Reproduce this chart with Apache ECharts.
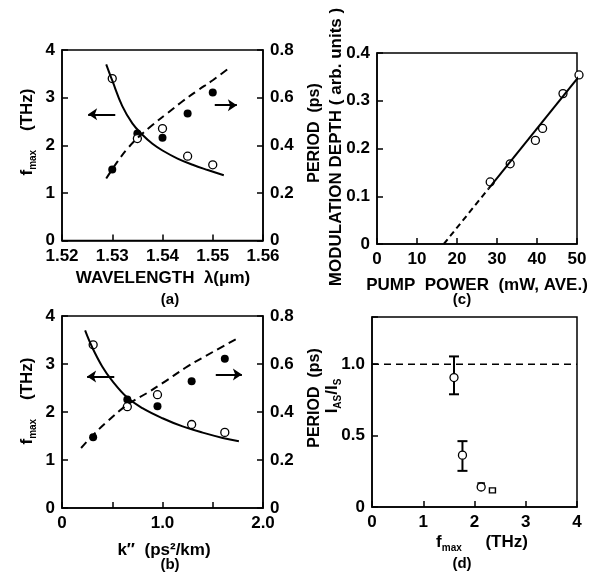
<!DOCTYPE html>
<html>
<head>
<meta charset="utf-8">
<script src="https://cdn.jsdelivr.net/npm/echarts@6/dist/echarts.min.js"></script>
<style>
  html, body { margin: 0; padding: 0; background: #fff; }
  #chart { width: 598px; height: 572px; }
</style>
</head>
<body>
<div id="chart"></div>
<script>
// (a) 波長に対する fmax と周期
const wavelength = [1.530, 1.535, 1.540, 1.545, 1.550]
const aFmax = [3.40, 2.14, 2.35, 1.77, 1.59]
const aPeriod = [0.298, 0.449, 0.432, 0.533, 0.622]
const aCurveX = [1.5288, 1.530, 1.532, 1.534, 1.536, 1.538, 1.540, 1.543, 1.546, 1.549, 1.5522]
const aCurveF = [3.70, 3.36, 2.82, 2.46, 2.22, 2.03, 1.89, 1.72, 1.59, 1.48, 1.37]
const aDashX = [1.5288, 1.531, 1.533, 1.535, 1.538, 1.541, 1.544, 1.547, 1.550, 1.5536]
const aDashP = [0.26, 0.33, 0.385, 0.43, 0.485, 0.535, 0.585, 0.63, 0.673, 0.73]

// (b) k'' に対する fmax と周期
const kpp = [0.31, 0.65, 0.95, 1.29, 1.62]
const bFmax = [3.40, 2.11, 2.36, 1.74, 1.575]
const bPeriod = [0.295, 0.452, 0.424, 0.528, 0.622]
const bCurveX = [0.23, 0.3, 0.4, 0.5, 0.65, 0.8, 1.0, 1.2, 1.4, 1.6, 1.76]
const bCurveF = [3.70, 3.35, 2.95, 2.65, 2.30, 2.08, 1.87, 1.70, 1.57, 1.46, 1.39]
const bDashX = [0.19, 0.3, 0.45, 0.65, 0.85, 1.0, 1.25, 1.5, 1.76]
const bDashP = [0.25, 0.30, 0.36, 0.43, 0.48, 0.52, 0.59, 0.65, 0.71]

// (c) ポンプパワーと変調深さ
const pumpPower = [28.3, 33.3, 39.6, 41.4, 46.5, 50.5]
const modDepth = [0.130, 0.168, 0.217, 0.242, 0.315, 0.354]
const cFitSolid = [[27.9, 0.116], [50.4, 0.350]]
const cFitDash = [[16.7, 0], [27.9, 0.116]]

// (d) I_AS/I_S と fmax
const dF = [1.60, 1.765, 2.13]
const dRatio = [0.906, 0.363, 0.14]
const dErrLow = [0.789, 0.253]
const dErrHigh = [1.054, 0.461]
const dSquareF = [2.13, 2.35]
const dSquareR = [0.152, 0.117]
const dRef = [[0, 1.0], [4, 1.0]]

// 矢印(データ座標)
const aArrows = [[[1.5306, 2.65], [1.5252, 2.65]], [[1.5504, 2.84], [1.5548, 2.84]]]
const bArrows = [[[0.52, 2.74], [0.25, 2.74]], [[1.53, 2.78], [1.79, 2.78]]]

const FONT = '"Liberation Sans", Arial, sans-serif'
const zip = (xs, ys) => xs.map((x, i) => [x, ys[i]])

const label = (fmt) => ({
  color: '#000', fontFamily: FONT, fontWeight: 'bold', fontSize: 17, margin: 7, formatter: fmt
})
const axisBase = {
  axisLine: { show: true, lineStyle: { color: '#000', width: 1.5 } },
  axisTick: { show: true, inside: true, length: 6, lineStyle: { color: '#000', width: 1.5 } },
  splitLine: { show: false }
}
const fix = (d) => (v) => (v === 0 ? '0' : v.toFixed(d))

const open = { color: '#fff', borderColor: '#000', borderWidth: 1.3, opacity: 1 }
const filled = { color: '#000', opacity: 1 }
const solidLine = { color: '#000', width: 2 }
const dashLine = { color: '#000', width: 2, type: [8, 5] }

const arrowLine = (arr) => ({
  silent: true,
  symbol: ['none', 'arrow'],
  symbolSize: 9,
  lineStyle: { color: '#000', width: 2, type: 'solid' },
  label: { show: false },
  data: arr.map(p => [{ coord: p[0] }, { coord: p[1] }])
})

const txt = (x, y, text, size, rot, rich) => ({
  type: 'text', x: x, y: y, rotation: rot || 0, silent: true,
  style: {
    text: text, fill: '#000', font: 'bold ' + size + 'px ' + FONT,
    align: 'center', verticalAlign: 'middle', textAlign: 'center', textVerticalAlign: 'middle',
    rich: rich
  }
})
const subRich = {
  m: { fontSize: 17, fontWeight: 'bold', fontFamily: FONT, lineHeight: 22, color: '#000' },
  s: { fontSize: 10, fontWeight: 'bold', fontFamily: FONT, lineHeight: 10, verticalAlign: 'bottom', color: '#000' }
}

const errorBars = dErrLow.map((lo, i) => [dF[i], lo, dErrHigh[i]])

const option = {
  animation: false,
  backgroundColor: '#fff',
  grid: [
    { left: 62, top: 50, width: 201, height: 190.5 },
    { left: 62, top: 316, width: 201, height: 192 },
    { left: 377, top: 53, width: 200, height: 191 },
    { left: 372, top: 317, width: 205, height: 190 }
  ].map(g => Object.assign(g, { show: true, borderColor: '#000', borderWidth: 1.5 })),
  xAxis: [
    Object.assign({ gridIndex: 0, type: 'value', min: 1.52, max: 1.56, interval: 0.01, axisLabel: label(fix(2)) }, axisBase),
    Object.assign({ gridIndex: 1, type: 'value', min: 0, max: 2, interval: 0.5,
      axisLabel: label(v => (v === 0 ? '0' : (v % 1 === 0 ? v.toFixed(1) : ''))) }, axisBase),
    Object.assign({ gridIndex: 2, type: 'value', min: 0, max: 50, interval: 10, axisLabel: label() }, axisBase),
    Object.assign({ gridIndex: 3, type: 'value', min: 0, max: 4, interval: 1, axisLabel: label() }, axisBase)
  ],
  yAxis: [
    Object.assign({ gridIndex: 0, type: 'value', min: 0, max: 4, interval: 1, axisLabel: label() }, axisBase),
    Object.assign({ gridIndex: 0, type: 'value', position: 'right', min: 0, max: 0.8, interval: 0.2, axisLabel: label(fix(1)) }, axisBase),
    Object.assign({ gridIndex: 1, type: 'value', min: 0, max: 4, interval: 1, axisLabel: label() }, axisBase),
    Object.assign({ gridIndex: 1, type: 'value', position: 'right', min: 0, max: 0.8, interval: 0.2, axisLabel: label(fix(1)) }, axisBase),
    Object.assign({ gridIndex: 2, type: 'value', min: 0, max: 0.4, interval: 0.1, axisLabel: label(fix(1)) }, axisBase),
    Object.assign({ gridIndex: 3, type: 'value', min: 0, max: 1.33, interval: 0.5,
      axisLabel: label(v => (v === 0 ? '0' : (Math.abs(v * 2 - Math.round(v * 2)) < 1e-6 ? v.toFixed(1) : ''))) }, axisBase)
  ],
  series: [
    // (a)
    { type: 'line', xAxisIndex: 0, yAxisIndex: 0, data: zip(aCurveX, aCurveF), smooth: 0.4, showSymbol: false, lineStyle: solidLine },
    { type: 'line', xAxisIndex: 0, yAxisIndex: 1, data: zip(aDashX, aDashP), smooth: 0.4, showSymbol: false, lineStyle: dashLine },
    { type: 'scatter', xAxisIndex: 0, yAxisIndex: 1, data: zip(wavelength, aPeriod), symbolSize: 8, itemStyle: filled },
    { type: 'scatter', xAxisIndex: 0, yAxisIndex: 0, data: zip(wavelength, aFmax), symbolSize: 8, itemStyle: open, markLine: arrowLine(aArrows) },
    // (b)
    { type: 'line', xAxisIndex: 1, yAxisIndex: 2, data: zip(bCurveX, bCurveF), smooth: 0.4, showSymbol: false, lineStyle: solidLine },
    { type: 'line', xAxisIndex: 1, yAxisIndex: 3, data: zip(bDashX, bDashP), smooth: 0.4, showSymbol: false, lineStyle: dashLine },
    { type: 'scatter', xAxisIndex: 1, yAxisIndex: 3, data: zip(kpp, bPeriod), symbolSize: 8, itemStyle: filled },
    { type: 'scatter', xAxisIndex: 1, yAxisIndex: 2, data: zip(kpp, bFmax), symbolSize: 8, itemStyle: open, markLine: arrowLine(bArrows) },
    // (c)
    { type: 'line', xAxisIndex: 2, yAxisIndex: 4, data: cFitSolid, showSymbol: false, lineStyle: solidLine },
    { type: 'line', xAxisIndex: 2, yAxisIndex: 4, data: cFitDash, showSymbol: false, lineStyle: { color: '#000', width: 2, type: [6, 4] } },
    { type: 'scatter', xAxisIndex: 2, yAxisIndex: 4, data: zip(pumpPower, modDepth), symbolSize: 8, itemStyle: open, clip: false },
    // (d)
    { type: 'line', xAxisIndex: 3, yAxisIndex: 5, data: dRef, showSymbol: false, lineStyle: { color: '#000', width: 1.5, type: [7, 5] } },
    {
      type: 'custom', xAxisIndex: 3, yAxisIndex: 5, data: errorBars, encode: { x: 0, y: [1, 2] },
      renderItem: function (params, api) {
        const top = api.coord([api.value(0), api.value(2)])
        const bot = api.coord([api.value(0), api.value(1)])
        const st = { stroke: '#000', lineWidth: 2 }
        return {
          type: 'group', children: [
            { type: 'line', shape: { x1: top[0], y1: top[1], x2: bot[0], y2: bot[1] }, style: st },
            { type: 'line', shape: { x1: top[0] - 5, y1: top[1], x2: top[0] + 5, y2: top[1] }, style: st },
            { type: 'line', shape: { x1: bot[0] - 5, y1: bot[1], x2: bot[0] + 5, y2: bot[1] }, style: st }
          ]
        }
      }
    },
    { type: 'scatter', xAxisIndex: 3, yAxisIndex: 5, data: zip(dSquareF, dSquareR), symbol: 'rect', symbolSize: [6, 5], itemStyle: open },
    { type: 'scatter', xAxisIndex: 3, yAxisIndex: 5, data: zip(dF, dRatio), symbolSize: 8, itemStyle: open }
  ],
  graphic: [
    // (a)
    txt(163, 278, 'WAVELENGTH  λ(μm)', 17),
    txt(170, 300, '(a)', 15),
    txt(27, 132, '{m|f}{s|max}{m|    (THz)}', 17, Math.PI / 2, subRich),
    txt(315, 133, 'PERIOD  (ps)', 16, Math.PI / 2),
    // (b)
    txt(164, 550, 'k″  (ps²/km)', 17),
    txt(170, 565, '(b)', 15),
    txt(27, 401, '{m|f}{s|max}{m|    (THz)}', 17, Math.PI / 2, subRich),
    txt(315, 398, 'PERIOD  (ps)', 16, Math.PI / 2),
    // (c)
    txt(477, 285, 'PUMP  POWER  (mW, AVE.)', 17),
    txt(462, 300, '(c)', 15),
    txt(336, 147, 'MODULATION DEPTH ( arb. units )', 17, Math.PI / 2),
    // (d)
    txt(482, 542, '{m|f}{s|max}{m|     (THz)}', 17, 0, subRich),
    txt(462, 564, '(d)', 15),
    txt(332, 396, '{m|I}{s|AS}{m|/I}{s|S}', 17, Math.PI / 2, subRich)
  ]
}

const myChart = echarts.init(document.getElementById('chart'))
myChart.setOption(option)
</script>
</body>
</html>
